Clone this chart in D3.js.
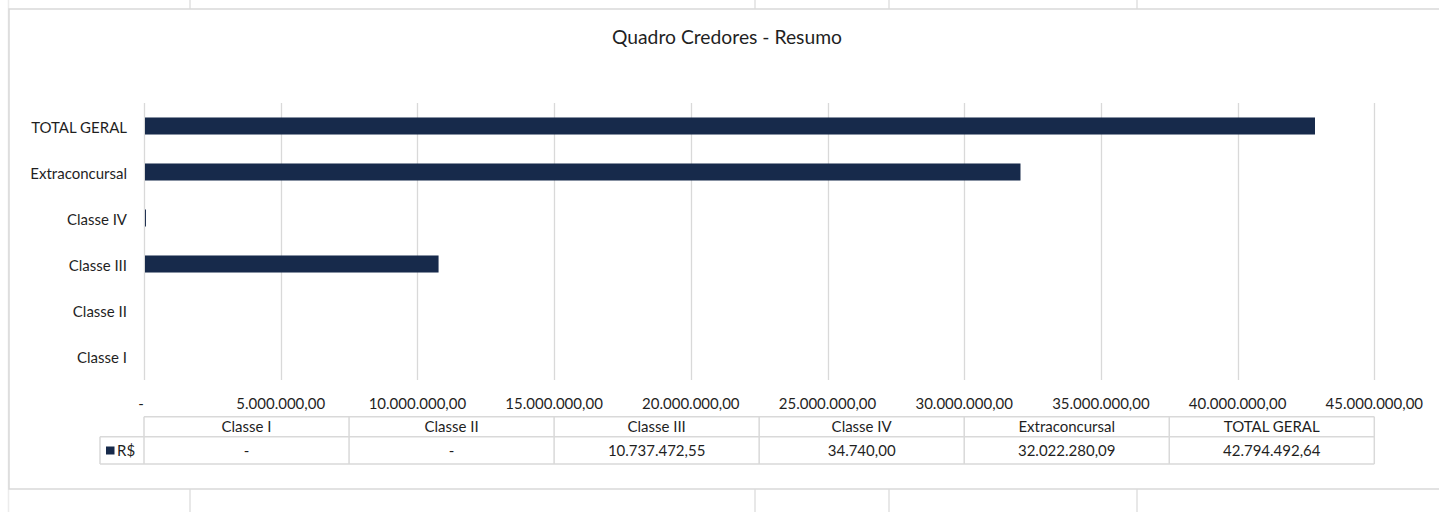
<!DOCTYPE html>
<html>
<head>
<meta charset="utf-8">
<script src="https://cdn.jsdelivr.net/npm/d3@7"></script>
<style>
  html, body { margin: 0; padding: 0; background: #fff; }
  svg { display: block; font-family: Lato, "Open Sans", sans-serif; }
</style>
</head>
<body>
<svg id="chart" width="1439" height="512"></svg>
<script>
const categories = ["Classe I", "Classe II", "Classe III", "Classe IV", "Extraconcursal", "TOTAL GERAL"];
const values = [0, 0, 10737472.55, 34740, 32022280.09, 42794492.64];
const tickValues = [0, 5e6, 10e6, 15e6, 20e6, 25e6, 30e6, 35e6, 40e6, 45e6];
const seriesName = "R$";
const title = "Quadro Credores - Resumo";

const BAR = "#172a4b", GRID = "#d9d9d9", TXT = "#1f1f1f";
const FS = 15;
const loc = d3.formatLocale({decimal: ",", thousands: ".", grouping: [3], currency: ["", ""]});
const fmt = v => v === 0 ? "-" : loc.format(",.2f")(v);

const svg = d3.select("#chart");
svg.append("rect").attr("width", 1439).attr("height", 512).attr("fill", "#fff");

// spreadsheet cell grid outside the chart
const sheet = svg.append("g").attr("stroke", "#e1e1e1").attr("stroke-width", 1.5);
sheet.append("line").attr("x1", 8.5).attr("x2", 8.5).attr("y1", 0).attr("y2", 512).attr("stroke", "#ececec");
[190, 755, 889, 1137].forEach(x => {
  sheet.append("line").attr("x1", x).attr("x2", x).attr("y1", 0).attr("y2", 9);
  sheet.append("line").attr("x1", x).attr("x2", x).attr("y1", 489).attr("y2", 512);
});
// chart area border
svg.append("rect").attr("x", 9).attr("y", 9).attr("width", 1460).attr("height", 480)
  .attr("fill", "#fff").attr("stroke", "#d9d9d9").attr("stroke-width", 1.5);

// title
svg.append("text").attr("x", 727).attr("y", 44).attr("text-anchor", "middle")
  .attr("font-size", 19.3).attr("fill", TXT).text(title);

// scales
const x = d3.scaleLinear().domain([0, 45e6]).range([144, 1374.3]);
const y = d3.scaleBand().domain(categories.slice().reverse()).range([103, 379])
  .paddingInner(0.63).paddingOuter(0.315);

// gridlines
svg.append("g").selectAll("line").data(tickValues).join("line")
  .attr("x1", d => Math.round(x(d)) + 0.5).attr("x2", d => Math.round(x(d)) + 0.5)
  .attr("y1", 103).attr("y2", 380).attr("stroke", GRID).attr("stroke-width", 1.3);

// bars
svg.append("g").selectAll("rect").data(categories).join("rect")
  .attr("x", x(0) + 1).attr("y", d => y(d))
  .attr("width", (d, i) => Math.max(0, x(values[i]) - x(0)))
  .attr("height", y.bandwidth())
  .attr("fill", BAR);

// category labels
svg.append("g").selectAll("text").data(categories).join("text")
  .attr("x", 127).attr("y", d => y(d) + y.bandwidth() / 2 + 1.5).attr("dy", "0.35em")
  .attr("text-anchor", "end").attr("font-size", FS).attr("fill", TXT).text(d => d);

// tick labels
svg.append("g").selectAll("text").data(tickValues).join("text")
  .attr("x", d => d === 0 ? x(d) - 3 : x(d)).attr("y", 404).attr("dy", "0.35em")
  .attr("text-anchor", "middle").attr("font-size", FS).attr("fill", TXT).text(fmt);

// data table
const xt = d3.scaleBand().domain(categories).range([144, 1374.3]);
const r0 = 416.7, r1 = 436.7, r2 = 464;
const tg = svg.append("g").attr("stroke", GRID).attr("stroke-width", 1.5);
tg.append("line").attr("x1", 144).attr("x2", 1374.3).attr("y1", r0).attr("y2", r0);
tg.append("line").attr("x1", 100).attr("x2", 1374.3).attr("y1", r1).attr("y2", r1);
tg.append("line").attr("x1", 100).attr("x2", 1374.3).attr("y1", r2).attr("y2", r2);
tg.append("line").attr("x1", 100).attr("x2", 100).attr("y1", r1).attr("y2", r2);
tg.selectAll("line.v").data(categories.concat(["end"])).join("line").attr("class", "v")
  .attr("x1", (d, i) => 144 + i * xt.step()).attr("x2", (d, i) => 144 + i * xt.step())
  .attr("y1", r0).attr("y2", r2);

svg.append("g").selectAll("text").data(categories).join("text")
  .attr("x", d => xt(d) + xt.bandwidth() / 2).attr("y", (r0 + r1) / 2).attr("dy", "0.35em")
  .attr("text-anchor", "middle").attr("font-size", FS).attr("fill", TXT).text(d => d);
svg.append("g").selectAll("text").data(categories).join("text")
  .attr("x", d => xt(d) + xt.bandwidth() / 2).attr("y", (r1 + r2) / 2).attr("dy", "0.35em")
  .attr("text-anchor", "middle").attr("font-size", FS).attr("fill", TXT).text((d, i) => fmt(values[i]));

// legend key in table
svg.append("rect").attr("x", 106).attr("y", 446.5).attr("width", 8.5).attr("height", 8).attr("fill", BAR);
svg.append("text").attr("x", 117).attr("y", (r1 + r2) / 2).attr("dy", "0.35em")
  .attr("font-size", FS).attr("fill", TXT).text(seriesName);
</script>
</body>
</html>
